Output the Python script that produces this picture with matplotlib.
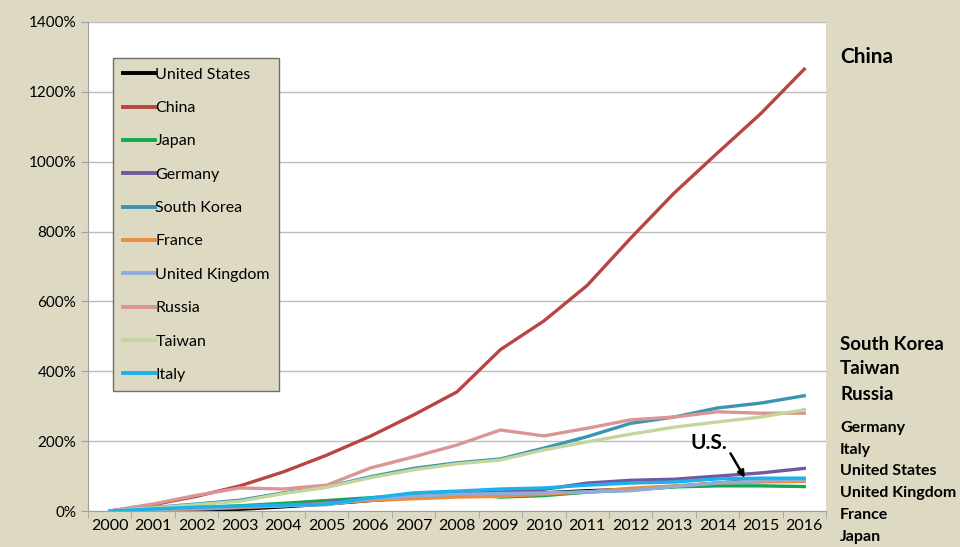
import matplotlib.pyplot as plt
from matplotlib.ticker import FuncFormatter

plt.rcParams['font.family'] = ['Lato', 'DejaVu Sans']

years = [str(y) for y in range(2000, 2017)]

us = [0, 0, 2, 5, 12, 20, 30, 38, 45, 48, 52, 58, 62, 70, 80, 88, 90]
china = [0, 18, 42, 72, 112, 160, 214, 275, 341, 462, 544, 646, 781, 910, 1025, 1138, 1265]
japan = [0, 5, 10, 15, 22, 30, 38, 46, 51, 40, 44, 54, 60, 69, 72, 72, 70]
germany = [0, 2, 5, 10, 15, 25, 35, 42, 50, 54, 62, 80, 88, 91, 100, 109, 122]
south_korea = [0, 10, 20, 31, 52, 69, 98, 122, 138, 149, 180, 213, 251, 269, 295, 309, 330]
france = [0, 3, 6, 10, 15, 22, 30, 35, 40, 42, 48, 55, 65, 72, 80, 83, 85]
uk = [0, 4, 8, 12, 15, 18, 35, 42, 48, 50, 52, 55, 58, 70, 80, 87, 88]
russia = [0, 20, 45, 66, 63, 74, 123, 155, 189, 232, 215, 237, 261, 269, 284, 280, 280]
taiwan = [0, 9, 18, 28, 50, 68, 95, 118, 135, 146, 175, 198, 220, 240, 255, 269, 290]
italy = [0, 6, 11, 14, 17, 20, 37, 52, 57, 63, 66, 74, 80, 83, 92, 94, 94]

series = [
    ('United States', us, '#000000'),
    ('China', china, '#B94441'),
    ('Japan', japan, '#12A84F'),
    ('Germany', germany, '#7358A0'),
    ('South Korea', south_korea, '#3B95B0'),
    ('France', france, '#F08A3C'),
    ('United Kingdom', uk, '#8FADD8'),
    ('Russia', russia, '#D99694'),
    ('Taiwan', taiwan, '#C3D69B'),
    ('Italy', italy, '#1AB2EE'),
]

bg = '#DDD9C3'
fig = plt.figure(figsize=(9.6, 5.47), dpi=100, facecolor=bg)
ax = fig.add_axes([0.0917, 0.0658, 0.7687, 0.894])
ax.set_facecolor('white')

x = list(range(len(years)))
for name, vals, col in series:
    ax.plot(x, vals, color=col, lw=2.4, label=name)

ax.set_xlim(-0.5, len(years) - 0.5)
ax.set_ylim(0, 1400)
ax.set_yticks(range(0, 1401, 200))
ax.yaxis.set_major_formatter(FuncFormatter(lambda v, p: f'{int(v)}%'))
ax.set_xticks(x)
ax.set_xticklabels(years)
ax.set_xticks([i - 0.5 for i in range(len(years) + 1)], minor=True)
ax.tick_params(axis='x', which='major', length=0, labelsize=11.5, pad=6)
ax.tick_params(axis='x', which='minor', length=5, color='#A0A0A0')
ax.tick_params(axis='y', length=5, color='#A0A0A0', labelsize=11)
ax.grid(axis='y', color='#BDBDBD', lw=1)
ax.set_axisbelow(True)
for s in ['top', 'right']:
    ax.spines[s].set_visible(False)
for s in ['left', 'bottom']:
    ax.spines[s].set_color('#A0A0A0')

leg = ax.legend(loc='upper left', bbox_to_anchor=(113 / 960, 1 - 58 / 547),
                bbox_transform=fig.transFigure, fontsize=11.5, frameon=True,
                fancybox=False, handlelength=2.0, handletextpad=0.05,
                labelspacing=1.2, borderpad=0.6, borderaxespad=0)
leg.get_frame().set_facecolor(bg)
leg.get_frame().set_edgecolor('#6E6E6E')
leg.get_frame().set_alpha(1)
for h in leg.get_lines():
    h.set_linewidth(2.8)

# right-hand labels
fig.text(840 / 960, 1 - 57 / 547, 'China', fontsize=15, fontweight='bold', va='center')
for lab, yy in [('South Korea', 344), ('Taiwan', 369), ('Russia', 394)]:
    fig.text(840 / 960, 1 - yy / 547, lab, fontsize=13.5, fontweight='bold', va='center')
for lab, yy in [('Germany', 428), ('Italy', 450), ('United States', 471),
                ('United Kingdom', 493), ('France', 515), ('Japan', 537)]:
    fig.text(840 / 960, 1 - yy / 547, lab, fontsize=11.5, fontweight='bold', va='center')

ax.text(13.8, 195, 'U.S.', fontsize=15, fontweight='bold', ha='center', va='center')
ax.annotate('', xy=(14.63, 95), xytext=(14.3, 165),
            arrowprops=dict(arrowstyle='-|>', color='black', lw=1.8,
                            shrinkA=0, shrinkB=0))

fig.savefig('out.png', dpi=100, facecolor=bg)
